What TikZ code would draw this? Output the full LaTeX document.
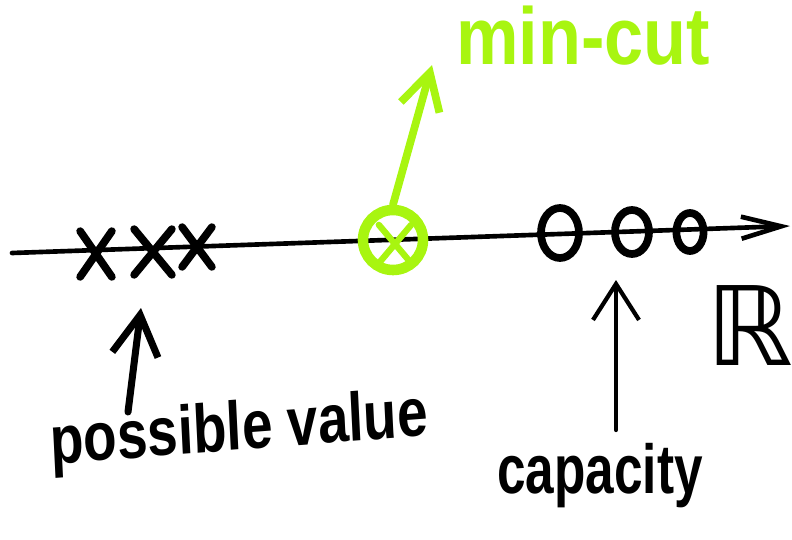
\documentclass[tikz,border=0pt]{standalone}
\usepackage{fontspec}
\setmainfont{Liberation Sans}
\newfontfamily\symfont{DejaVu Sans}
\usetikzlibrary{arrows.meta,shapes.geometric,shapes.misc}
\definecolor{limecut}{RGB}{168,245,16}

\begin{document}
\begin{tikzpicture}[x=0.025cm,y=-0.025cm,
  xmark/.style={cross out,draw,line width=5.5pt,line cap=round,minimum width=0.6cm,minimum height=0.95cm,inner sep=0pt},
  omark/.style={ellipse,draw,line width=5.5pt,inner sep=0pt},
  lbl/.style={font=\bfseries,inner sep=0pt,anchor=base},
  arr/.style={line width=4pt,line cap=round,-{Straight Barb[length=1cm,width=1.15cm]}}]
\useasboundingbox (0,0) rectangle (792,540);
% number line
\coordinate (axl) at (12,253);
\coordinate (axr) at (790,226);
\draw[line width=3.3pt,line cap=round,-{Straight Barb[length=1cm,width=0.55cm]}] (axl) -- (axr);
\node[inner sep=0pt,font=\symfont\fontsize{78}{78}\selectfont] (reals) at (750,326) {ℝ};
% possible values
\node[xmark] (x1) at (96,254) {};
\node[xmark,minimum width=0.75cm] (x2) at (153,252) {};
\node[xmark,minimum width=0.55cm,minimum height=0.8cm] (x3) at (197,247) {};
% min-cut
\node[circle,draw=limecut,line width=7.5pt,minimum size=1.5cm] (cut) at (393,240) {};
\node[xmark,draw=limecut,line width=4.5pt,minimum width=0.65cm,minimum height=0.8cm] (cutx) at (395,244) {};
\coordinate (cuttip) at (432,65);
\draw[arr,draw=limecut,line width=5.5pt,-{Straight Barb[length=0.9cm,width=1cm]}] (cut.north) -- (cuttip);
\node[lbl,text=limecut,font=\bfseries\fontsize{50}{50}\selectfont,yscale=1.15] (mincut) at (583,64) {min-cut};
% capacities
\node[omark,minimum width=0.95cm,minimum height=1.25cm] (o1) at (560,233) {};
\node[omark,minimum width=0.85cm,minimum height=1.1cm] (o2) at (632,232) {};
\node[omark,minimum width=0.68cm,minimum height=0.95cm] (o3) at (690,232) {};
% labels below
\node[lbl,font=\bfseries\fontsize{39}{40}\selectfont,yscale=1.25,rotate=3.5] (possible) at (240,450) {possible value};
\coordinate (pvtail) at (128,412);
\coordinate (pvhead) at (141,308);
\draw[arr,line width=5pt] (pvtail) -- (pvhead);
\node[lbl,font=\bfseries\fontsize{36.5}{38}\selectfont,yscale=1.35] (capacity) at (600,493) {capacity};
\coordinate (captail) at (616,430);
\coordinate (caphead) at (616,280);
\draw[arr,line width=3pt,-{Straight Barb[length=0.9cm,width=1.15cm]}] (captail) -- (caphead);
\end{tikzpicture}
\end{document}
